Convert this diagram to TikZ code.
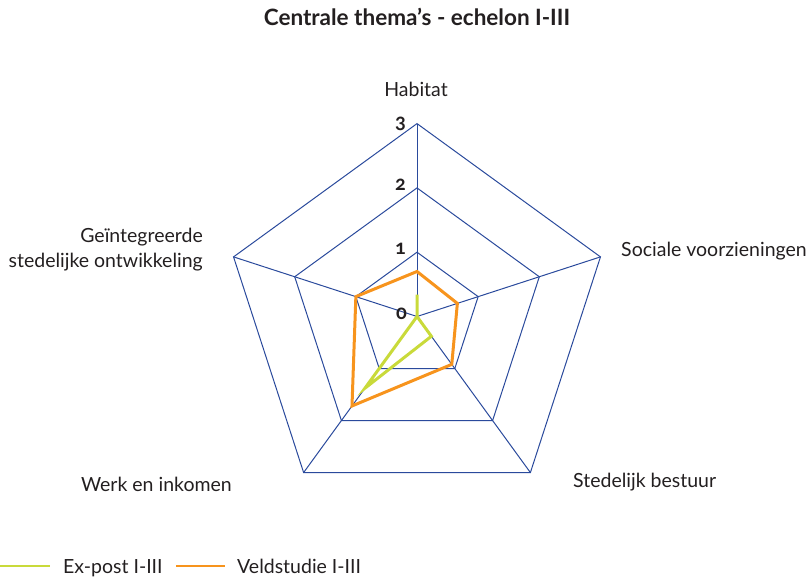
\documentclass[tikz,border=0pt]{standalone}
\usepackage{fontspec}
\setmainfont{Lato}
\newfontfamily\numfont[Numbers=OldStyle]{Lato}
\definecolor{gridblue}{HTML}{2A4A9C}
\definecolor{orng}{HTML}{F7941D}
\definecolor{lgreen}{HTML}{C9DA3A}
\definecolor{txt}{HTML}{231F20}
\tikzset{
  grid/.style={draw=gridblue, line width=1pt},
  lab/.style={text=txt, font=\fontsize{19.5}{25}\selectfont, inner sep=0pt},
  num/.style={text=txt, font=\numfont\bfseries\fontsize{20}{22}\selectfont, inner sep=0pt, anchor=base east},
  veld/.style={draw=orng, line width=3pt, line join=miter},
  expost/.style={draw=lgreen, line width=3pt, line join=miter},
}
\begin{document}
\begin{tikzpicture}[x=1pt,y=-1pt]
\useasboundingbox (0,0) rectangle (810,578);
\node[lab, font=\bfseries\fontsize{22.5}{26}\selectfont, anchor=base] (title) at (417,26) {Centrale thema’s - echelon I-III};
\begin{scope}[shift={(417,316.5)}, x=64.3pt, y=64.3pt]
  \coordinate (c) at (0,0);
  \foreach \a/\n in {90/1,18/2,-54/3,-126/4,162/5}{
    \foreach \r in {1,2,3}{ \coordinate (p\n-\r) at (\a:\r); }
  }
  \foreach \r in {1,2,3}{
    \draw[grid] (p1-\r) -- (p2-\r) -- (p3-\r) -- (p4-\r) -- (p5-\r) -- cycle;
  }
  \foreach \n in {1,...,5}{ \draw[grid] (c) -- (p\n-3); }
  % data
  \coordinate (v1) at (90:0.70);
  \coordinate (v2) at (18:0.66);
  \coordinate (v3) at (-54:0.92);
  \coordinate (v4) at (-126:1.72);
  \coordinate (v5) at (162:1.0);
  \coordinate (e1) at (90:0.34);
  \coordinate (e3) at (-54:0.38);
  \coordinate (e4) at (-126:1.38);
  \draw[expost] (e1) -- (c) -- (e3) -- (e4) -- (c) -- cycle;
  \draw[veld] (v1) -- (v2) -- (v3) -- (v4) -- (v5) -- cycle;
\end{scope}
\node[num] (n3) at (406,128) {3};
\node[num] (n2) at (406,190) {2};
\node[num] (n1) at (406,254) {1};
\node[num] (n0) at (407,319) {0};
\node[lab, anchor=base] (habitat) at (416,96) {Habitat};
\node[lab, anchor=base west] (soc) at (621,256) {Sociale voorzieningen};
\node[lab, anchor=base west] (sted) at (573,487) {Stedelijk bestuur};
\node[lab, anchor=base east] (werk) at (232,491) {Werk en inkomen};
\node[lab, anchor=base east, align=right] (geint) at (203,267) {Geïntegreerde\\stedelijke ontwikkeling};
\coordinate (g1) at (0,566); \coordinate (g2) at (50,566);
\draw[lgreen, line width=2.5pt] (g1) -- (g2);
\node[lab, anchor=base west] (exl) at (63,573) {Ex-post I-III};
\coordinate (o1) at (176,566); \coordinate (o2) at (225,566);
\draw[orng, line width=2.5pt] (o1) -- (o2);
\node[lab, anchor=base west] (vel) at (237,573) {Veldstudie I-III};
\end{tikzpicture}
\end{document}
